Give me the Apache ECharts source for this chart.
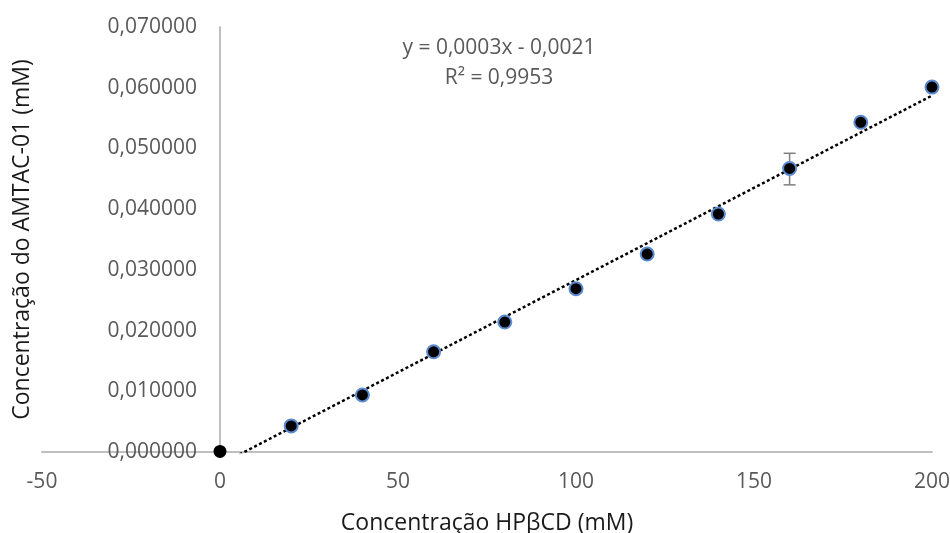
<!DOCTYPE html>
<html>
<head>
<meta charset="utf-8">
<script src="https://cdn.jsdelivr.net/npm/echarts@6/dist/echarts.min.js"></script>
<style>
  html, body { margin: 0; padding: 0; background: #fff; }
  #chart { width: 950px; height: 533px; }
</style>
</head>
<body>
<div id="chart"></div>
<script>
// data
const hpbcd = [0, 20, 40, 60, 80, 100, 120, 140, 160, 180, 200];
const amtac = [0.0001, 0.0043, 0.0094, 0.0165, 0.0214, 0.0269, 0.0326, 0.0392, 0.0467, 0.0543, 0.0601];
const errX = [160];
const errLow = [0.0440];
const errHigh = [0.0492];
const eqLines = ['y = 0,0003x - 0,0021', 'R² = 0,9953'];

window.addEventListener("load", () => {
  let chart = echarts.init(document.getElementById("chart"), null, { renderer: 'canvas' });

  // linear trendline (least squares over the points)
  let n = hpbcd.length;
  let mx = hpbcd.reduce((a, b) => a + b, 0) / n;
  let my = amtac.reduce((a, b) => a + b, 0) / n;
  let sxy = 0, sxx = 0;
  for (let i = 0; i < n; i++) {
    sxy += (hpbcd[i] - mx) * (amtac[i] - my);
    sxx += (hpbcd[i] - mx) * (hpbcd[i] - mx);
  }
  let slope = sxy / sxx;
  let icpt = my - slope * mx;
  let x0 = hpbcd[0], x1 = hpbcd[n - 1];
  let trend = [[x0, icpt + slope * x0], [x1, icpt + slope * x1]];

  let points = hpbcd.map((x, i) => {
    let p = { value: [x, amtac[i]] };
    if (i === 0) p.itemStyle = { borderWidth: 0 };
    return p;
  });

  let labelFont = { color: '#595959', fontSize: 21, fontFamily: 'Open Sans' };
  let titleFont = { color: '#1a1a1a', fontSize: 23, fontFamily: 'Open Sans' };

  // y axis sits on x = 0: grid left is 42, x = 0 is at 220
  let yAxisShift = 42 - 220;

  let option = {
    backgroundColor: '#fff',
    animation: false,
    grid: { left: 42, right: 18, top: 27, bottom: 81, containLabel: false, outerBoundsMode: 'none' },
    xAxis: {
      type: 'value',
      min: -50, max: 200, interval: 50,
      splitLine: { show: false },
      axisTick: { show: false },
      axisLine: { onZero: false, lineStyle: { color: '#BFBFBF', width: 2 } },
      axisLabel: Object.assign({ margin: 20 }, labelFont),
      name: 'Concentração HPβCD (mM)',
      nameLocation: 'middle',
      nameGap: 60,
      nameTextStyle: titleFont
    },
    yAxis: {
      type: 'value',
      min: 0, max: 0.07, interval: 0.01,
      offset: yAxisShift,
      splitLine: { show: false },
      axisTick: { show: false },
      axisLine: { show: true, onZero: false, lineStyle: { color: '#BFBFBF', width: 2 } },
      axisLabel: Object.assign({
        margin: 23,
        formatter: v => v.toFixed(6).replace('.', ',')
      }, labelFont),
      name: 'Concentração do AMTAC-01 (mM)',
      nameLocation: 'middle',
      nameGap: 186,
      nameTextStyle: titleFont
    },
    graphic: eqLines.map((t, i) => ({
      type: 'text',
      x: 499,
      y: 48 + i * 30,
      style: {
        text: t, fill: '#595959', font: '21px "Open Sans"',
        align: 'center', verticalAlign: 'middle'
      }
    })),
    series: [
      {
        name: 'Trendline',
        type: 'line',
        data: trend,
        symbol: 'none',
        clip: true,
        lineStyle: { color: '#000', width: 2.5, type: [3, 2.5] },
        z: 3
      },
      {
        name: 'Erro',
        type: 'custom',
        data: errX.map((x, i) => [x, errLow[i], errHigh[i]]),
        renderItem: function (params, api) {
          let lo = api.coord([api.value(0), api.value(1)]);
          let hi = api.coord([api.value(0), api.value(2)]);
          let w = 6;
          let st = { stroke: '#7F7F7F', lineWidth: 1.5 };
          return {
            type: 'group',
            children: [
              { type: 'line', shape: { x1: lo[0], y1: lo[1], x2: hi[0], y2: hi[1] }, style: st },
              { type: 'line', shape: { x1: lo[0] - w, y1: lo[1], x2: lo[0] + w, y2: lo[1] }, style: st },
              { type: 'line', shape: { x1: hi[0] - w, y1: hi[1], x2: hi[0] + w, y2: hi[1] }, style: st }
            ]
          };
        },
        z: 2
      },
      {
        name: 'Pontos',
        type: 'scatter',
        data: points,
        symbolSize: 13,
        itemStyle: { color: '#000', opacity: 1, borderColor: '#5B8BD0', borderWidth: 2 },
        z: 4
      }
    ]
  };

  chart.setOption(option);
});
</script>
</body>
</html>
